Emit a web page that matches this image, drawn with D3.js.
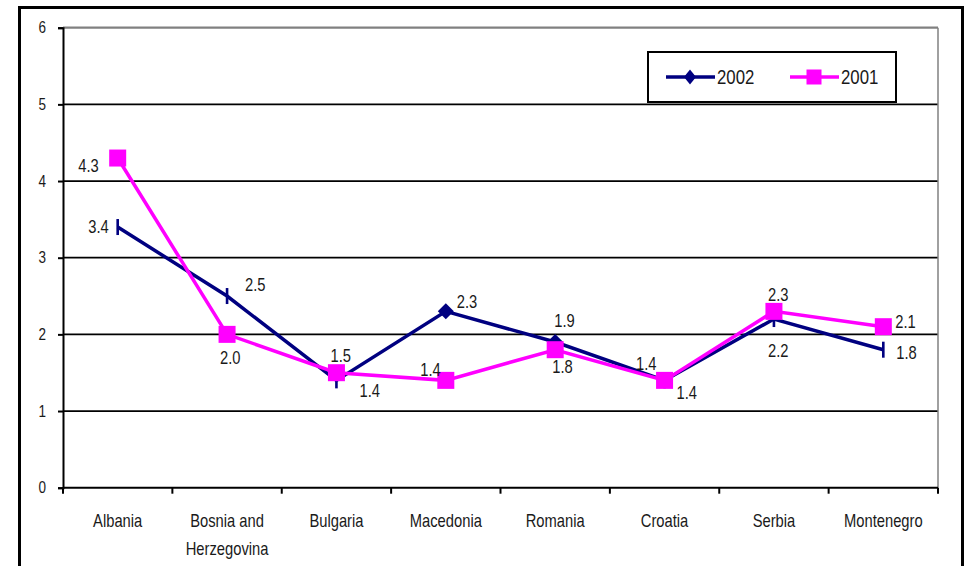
<!DOCTYPE html>
<html>
<head>
<meta charset="utf-8">
<script src="https://cdn.jsdelivr.net/npm/d3@7/dist/d3.min.js"></script>
<style>
  html, body { margin: 0; padding: 0; background: #fff; }
  svg text { font-family: 'Liberation Sans', Arial, sans-serif; fill: #1a1a1a; }
</style>
</head>
<body>
<svg id="chart" width="966" height="566"></svg>
<script>
// Series values by country
const categories = ["Albania", "Bosnia and Herzegovina", "Bulgaria", "Macedonia", "Romania", "Croatia", "Serbia", "Montenegro"];
const values2002 = [3.4, 2.5, 1.4, 2.3, 1.9, 1.4, 2.2, 1.8];
const values2001 = [4.3, 2.0, 1.5, 1.4, 1.8, 1.4, 2.3, 2.1];
const yTicks = [0, 1, 2, 3, 4, 5, 6];
const seriesNames = ["2002", "2001"];

const svg = d3.select("#chart");
const plot = { left: 63, right: 938, top: 27.7, bottom: 487.7 };
const NAVY = "#000080", MAGENTA = "#FF00FF";
const SQUEEZE = 0.82; // condensed lettering

// text drawn in a horizontally condensed face
function narrowText(parent, px, py, str, size, anchor) {
  return parent.append("text")
    .attr("transform", `translate(${px},${py}) scale(${SQUEEZE},1)`)
    .attr("text-anchor", anchor || "start")
    .attr("font-size", size).text(str);
}

// outer frame
svg.append("rect").attr("x", 19.5).attr("y", 7.5).attr("width", 943).attr("height", 600)
  .attr("fill", "#fff").attr("stroke", "#000").attr("stroke-width", 3);

const x = d3.scaleBand().domain(categories).range([plot.left, plot.right]).padding(0);
const y = d3.scaleLinear().domain([0, 6]).range([plot.bottom, plot.top]);
const cx = c => x(c) + x.bandwidth() / 2;

// horizontal gridlines (top one is the grey plot border)
svg.append("g").selectAll("line").data(yTicks.filter(t => t > 0)).join("line")
  .attr("x1", plot.left).attr("x2", plot.right)
  .attr("y1", d => y(d)).attr("y2", d => y(d))
  .attr("stroke", d => d === 6 ? "#808080" : "#000")
  .attr("stroke-width", d => d === 6 ? 2.2 : 1.8);

// right plot border
svg.append("line").attr("x1", plot.right).attr("x2", plot.right)
  .attr("y1", plot.top).attr("y2", plot.bottom)
  .attr("stroke", "#808080").attr("stroke-width", 1.5);

// y axis
const yAxis = svg.append("g").attr("transform", `translate(${plot.left},0)`)
  .call(d3.axisLeft(y).tickValues(yTicks).tickSize(5).tickPadding(15.7).tickFormat(d3.format("d")));
yAxis.select(".domain").attr("stroke", "#000").attr("stroke-width", 2);
yAxis.selectAll(".tick line").attr("stroke", "#000").attr("stroke-width", 2);
yAxis.selectAll(".tick text").attr("font-size", 16.5).attr("font-family", null)
  .attr("fill", "#1a1a1a").attr("transform", `scale(${SQUEEZE},1)`);

// x axis with ticks on band boundaries
const boundaries = categories.map(c => x(c)).concat([plot.right]);
const xAxisG = svg.append("g").attr("transform", `translate(0,${plot.bottom})`);
xAxisG.append("line").attr("x1", plot.left).attr("x2", plot.right)
  .attr("stroke", "#000").attr("stroke-width", 2);
xAxisG.selectAll("line.tk").data(boundaries).join("line").attr("class", "tk")
  .attr("x1", d => d).attr("x2", d => d).attr("y1", 0).attr("y2", 6)
  .attr("stroke", "#000").attr("stroke-width", 2);
categories.forEach(c => {
  const words = c === "Bosnia and Herzegovina" ? ["Bosnia and", "Herzegovina"] : [c];
  words.forEach((w, i) => narrowText(xAxisG, cx(c), 39.5 + i * 28, w, 18, "middle"));
});

// lines
const line = vals => d3.line().x((v, i) => cx(categories[i])).y(v => y(v))(vals);
svg.append("path").attr("d", line(values2002)).attr("fill", "none")
  .attr("stroke", NAVY).attr("stroke-width", 3.5).attr("stroke-linejoin", "miter");
svg.append("path").attr("d", line(values2001)).attr("fill", "none")
  .attr("stroke", MAGENTA).attr("stroke-width", 3.5).attr("stroke-linejoin", "miter");

// 2002 markers: full diamonds where they render wide, thin bars elsewhere
const wideDiamond = new Set(["Macedonia", "Romania"]);
const diamond = (px, py, w, h) => `M${px},${py - h}L${px + w},${py}L${px},${py + h}L${px - w},${py}Z`;
const m2002 = svg.append("g");
values2002.forEach((v, i) => {
  const c = categories[i], px = cx(c), py = y(v);
  if (wideDiamond.has(c)) {
    m2002.append("path").attr("d", diamond(px, py, 8, 8)).attr("fill", NAVY);
  } else {
    m2002.append("rect").attr("x", px - 1.3).attr("y", py - 8).attr("width", 2.6).attr("height", 16)
      .attr("fill", NAVY);
  }
});

// 2001 markers: squares
svg.append("g").selectAll("rect").data(values2001).join("rect")
  .attr("x", (v, i) => cx(categories[i]) - 8.5).attr("y", v => y(v) - 8.5)
  .attr("width", 17).attr("height", 17).attr("fill", MAGENTA);

// value labels, each placed beside its point
const place2002 = [[-9, 6, "end"], [18, -5, "start"], [23, 17, "start"], [11, -3, "start"],
                   [-1, -15, "start"], [12, 19, "start"], [-6, 38, "start"], [13, 9, "start"]];
const place2001 = [[-19, 14, "end"], [-7, 30, "start"], [-6, -11, "start"], [-5, -4, "end"],
                   [-3, 23, "start"], [-8, -10, "end"], [-6, -10, "start"], [12, 1, "start"]];
const fmt = d3.format(".1f");
function valueLabels(vals, place) {
  const g = svg.append("g");
  vals.forEach((v, i) => narrowText(g, cx(categories[i]) + place[i][0], y(v) + place[i][1],
    fmt(v), 18, place[i][2]));
}
valueLabels(values2002, place2002);
valueLabels(values2001, place2001);

// legend
const lg = svg.append("g");
lg.append("rect").attr("x", 648).attr("y", 52).attr("width", 248).attr("height", 50)
  .attr("fill", "#fff").attr("stroke", "#000").attr("stroke-width", 2);
const legendItems = [
  { name: seriesNames[0], color: NAVY, x0: 666, shape: "diamond" },
  { name: seriesNames[1], color: MAGENTA, x0: 790, shape: "square" }
];
legendItems.forEach(it => {
  const ly = 77;
  lg.append("line").attr("x1", it.x0).attr("x2", it.x0 + 49).attr("y1", ly).attr("y2", ly)
    .attr("stroke", it.color).attr("stroke-width", 3.5);
  if (it.shape === "diamond") {
    lg.append("path").attr("d", diamond(it.x0 + 24, ly, 6, 7.5)).attr("fill", it.color);
  } else {
    lg.append("rect").attr("x", it.x0 + 24 - 7.5).attr("y", ly - 7.5)
      .attr("width", 15).attr("height", 15).attr("fill", it.color);
  }
  narrowText(lg, it.x0 + 51, 83.5, it.name, 20.5, "start");
});
</script>
</body>
</html>
